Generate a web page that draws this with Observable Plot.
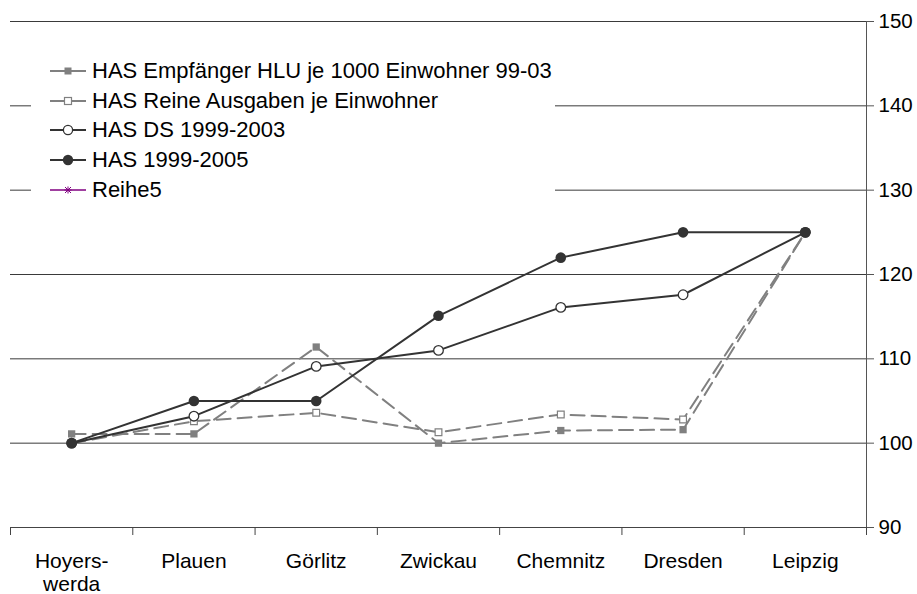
<!DOCTYPE html>
<html>
<head>
<meta charset="utf-8">
<script src="https://cdn.jsdelivr.net/npm/d3@7"></script>
<script src="https://cdn.jsdelivr.net/npm/@observablehq/plot@0.6"></script>
<style>
  html, body { margin: 0; padding: 0; background: #fff; }
  #wrap { position: relative; width: 917px; height: 594px; font-family: "Liberation Sans", Arial, sans-serif; color: #000; }
  #legend { position: absolute; left: 31px; top: 52px; width: 524px; height: 156px; background: #fff; }
  .row { position: absolute; left: 0; height: 30px; display: flex; align-items: center; font-size: 22px; white-space: nowrap; }
  .row svg { display: block; margin-left: 17px; margin-right: 4px; }
</style>
</head>
<body>
<div id="wrap"></div>
<script>
// ---- data ----
const categories = ["Hoyerswerda", "Plauen", "Görlitz", "Zwickau", "Chemnitz", "Dresden", "Leipzig"];
const tickLabels = ["Hoyers-\nwerda", "Plauen", "Görlitz", "Zwickau", "Chemnitz", "Dresden", "Leipzig"];
const seriesNames = [
  "HAS Empfänger HLU je 1000 Einwohner 99-03",
  "HAS Reine Ausgaben je Einwohner",
  "HAS DS 1999-2003",
  "HAS 1999-2005",
  "Reihe5"
];
const hluJe1000      = [101.1, 101.1, 111.4, 100.0, 101.5, 101.6, 125.0];
const reineAusgaben  = [100.0, 102.6, 103.6, 101.3, 103.4, 102.8, 125.0];
const ds1999_2003    = [100.0, 103.2, 109.1, 111.0, 116.1, 117.6, 125.0];
const has1999_2005   = [100.0, 105.0, 105.0, 115.1, 122.0, 125.0, 125.0];
const reihe5         = [];
const yTicks = [90, 100, 110, 120, 130, 140, 150];

// ---- build tables ----
const rows = (vals) => vals.map((v, i) => ({i, v}));
const s1 = rows(hluJe1000), s2 = rows(reineAusgaben), s3 = rows(ds1999_2003), s4 = rows(has1999_2005);
const idx = categories.map((_, i) => i);
const edges = d3.range(categories.length + 1).map(k => k - 0.5);

const GRAY = "#808080", DARK = "#333333";
const dash = "14,7";

const chart = Plot.plot({
  width: 917,
  height: 594,
  marginTop: 21,
  marginBottom: 67,
  marginLeft: 10,
  marginRight: 51,
  style: {fontFamily: "'Liberation Sans', Arial, sans-serif", fontSize: "20.5px", color: "#000", background: "#fff", overflow: "visible"},
  x: {type: "linear", domain: [edges[0], edges[edges.length - 1]], label: null},
  y: {domain: [yTicks[0], yTicks[yTicks.length - 1]], label: null},
  marks: [
    Plot.ruleY(yTicks.slice(1), {stroke: "#3a3a3a", strokeWidth: 1}),
    Plot.ruleY([yTicks[0]], {stroke: "#444", strokeWidth: 1}),
    Plot.ruleX([edges[edges.length - 1]], {y1: yTicks[0], y2: yTicks[yTicks.length - 1], stroke: "#555"}),
    Plot.axisX({ticks: edges, tickSize: 8, tickFormat: () => "", stroke: "#444", label: null}),
    Plot.axisX({ticks: idx, tickSize: 0, tickPadding: 24, tickFormat: i => tickLabels[i], lineHeight: 1.1, label: null, fontSize: 21}),
    Plot.axisY({anchor: "right", ticks: yTicks, tickSize: 7, tickPadding: 5, stroke: "#555", label: null, fontSize: 20.5}),

    Plot.line(s1, {x: "i", y: "v", stroke: GRAY, strokeWidth: 2, strokeDasharray: dash}),
    Plot.dot(s1, {x: "i", y: "v", symbol: "square", r: 4.1, fill: GRAY, stroke: "none"}),
    Plot.line(s2, {x: "i", y: "v", stroke: GRAY, strokeWidth: 2, strokeDasharray: dash}),
    Plot.dot(s2, {x: "i", y: "v", symbol: "square", r: 3.8, fill: "#fff", stroke: GRAY, strokeWidth: 1.2}),
    Plot.line(s3, {x: "i", y: "v", stroke: DARK, strokeWidth: 2}),
    Plot.dot(s3, {x: "i", y: "v", r: 4.8, fill: "#fff", stroke: DARK, strokeWidth: 1.3}),
    Plot.line(s4, {x: "i", y: "v", stroke: DARK, strokeWidth: 2}),
    Plot.dot(s4, {x: "i", y: "v", r: 5.3, fill: DARK, stroke: "none"})
  ]
});

const wrap = document.getElementById("wrap");
wrap.appendChild(chart);

// ---- legend (HTML overlay) ----
const swatches = [
  `<line x1="2" y1="10" x2="38" y2="10" stroke="${GRAY}" stroke-width="2"/><rect x="16.5" y="6.5" width="7" height="7" fill="${GRAY}"/>`,
  `<line x1="2" y1="10" x2="38" y2="10" stroke="${GRAY}" stroke-width="2"/><rect x="16.5" y="6.5" width="7" height="7" fill="#fff" stroke="${GRAY}" stroke-width="1.2"/>`,
  `<line x1="2" y1="10" x2="38" y2="10" stroke="${DARK}" stroke-width="2"/><circle cx="20" cy="10" r="4.6" fill="#fff" stroke="${DARK}" stroke-width="1.3"/>`,
  `<line x1="2" y1="10" x2="38" y2="10" stroke="${DARK}" stroke-width="2"/><circle cx="20" cy="10" r="5.2" fill="${DARK}"/>`,
  `<line x1="2" y1="10" x2="38" y2="10" stroke="#800080" stroke-width="1.3"/><path d="M17,7L23,13M23,7L17,13M20,6.5V13.5M16.5,10H23.5" stroke="#800080" stroke-width="1"/>`
];
const legend = document.createElement("div");
legend.id = "legend";
const rowTops = [4, 34, 63, 93, 123];
seriesNames.forEach((name, k) => {
  const r = document.createElement("div");
  r.className = "row";
  r.style.top = rowTops[k] + "px";
  r.innerHTML = `<svg width="40" height="20">${swatches[k]}</svg><span>${name}</span>`;
  legend.appendChild(r);
});
wrap.appendChild(legend);
</script>
</body>
</html>
